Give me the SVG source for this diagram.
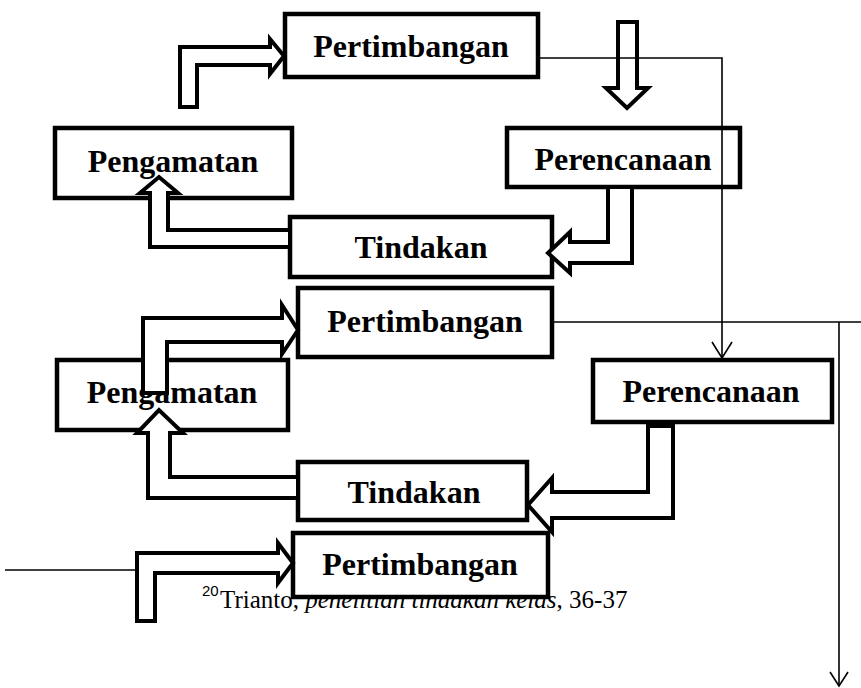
<svg xmlns="http://www.w3.org/2000/svg" width="861" height="688" viewBox="0 0 861 688">
<defs>
<style>
.box{fill:#fff;stroke:#000;stroke-width:4.5}
.lbl{font-family:"Liberation Serif","Times New Roman",serif;font-weight:bold;font-size:32px;fill:#000;text-anchor:middle}
.blk{fill:#fff;stroke:#000;stroke-width:4;stroke-linejoin:miter}
.thin{fill:none;stroke:#000;stroke-width:1.6}
.note{font-family:"Liberation Serif","Times New Roman",serif;font-size:25px;fill:#000}
</style>
</defs>
<rect width="861" height="688" fill="#fff"/>
<g id="footnote">
<text x="202" y="596" font-family="Liberation Sans, Arial, sans-serif" font-size="15">20</text>
<text class="note" x="220" y="608">Trianto, <tspan font-style="italic">penelitian tindakan kelas</tspan>, 36-37</text>
</g>
<g id="pertimbangan1"><rect class="box" x="285" y="14" width="253" height="63"/><text class="lbl" x="411" y="57" font-size="33">Pertimbangan</text></g>
<g id="pengamatan1"><rect class="box" x="55" y="128" width="237" height="70"/><text class="lbl" x="173" y="172">Pengamatan</text></g>
<g id="perencanaan1"><rect class="box" x="507" y="128" width="233" height="59"/><text class="lbl" x="623" y="170">Perencanaan</text></g>
<g id="tindakan1"><rect class="box" x="290" y="217" width="262" height="60"/><text class="lbl" x="421" y="258">Tindakan</text></g>
<g id="pertimbangan2"><rect class="box" x="298" y="288" width="254" height="69"/><text class="lbl" x="425" y="332">Pertimbangan</text></g>
<g id="pengamatan2"><rect class="box" x="57" y="360" width="231" height="70"/><text class="lbl" x="172" y="403">Pengamatan</text></g>
<g id="perencanaan2"><rect class="box" x="593" y="360" width="239" height="62"/><text class="lbl" x="711" y="402">Perencanaan</text></g>
<g id="tindakan2"><rect class="box" x="298" y="462" width="229" height="58"/><text class="lbl" x="414" y="503">Tindakan</text></g>
<g id="pertimbangan3"><rect class="box" x="293" y="533" width="255" height="64"/><text class="lbl" x="420" y="575">Pertimbangan</text></g>
<g id="connectors">
<path class="blk" d="M180,107 V47 H270 V39 L284,56 L270,74 V65 H197 V107 Z"/>
<path class="blk" d="M618,22 H637 V88 H648 L627,108 L606,88 H618 Z"/>
<path class="blk" d="M608,187 H632 V263 H570 V273 L548,253 L570,232 V242 H608 Z"/>
<path class="blk" d="M290,230 H168 V193 H178 L159,177 L140,193 H150 V247 H290 Z"/>
<path class="blk" d="M143,393 V318 H282 V305 L298,330 L282,354 V342 H167 V393 Z"/>
<path class="blk" d="M298,477 H170 V433 H183 L159,410 L137,433 H148 V498 H298 Z"/>
<path class="blk" d="M648,426 H673 V518 H552 V532 L528,505 L552,478 V492 H648 Z"/>
<path class="blk" d="M137,621 V553 H278 V543 L293,563 L278,583 V573 H155 V621 Z"/>
<path class="thin" d="M538,58 H722 V357"/>
<path class="thin" d="M712,342 L722,358 L732,342"/>
<path class="thin" d="M552,322 H861"/>
<path class="thin" d="M839,322 V685"/>
<path class="thin" d="M830,672 L839,686 L848,672"/>
<path class="thin" d="M5,570 H137"/>
</g>
</svg>
